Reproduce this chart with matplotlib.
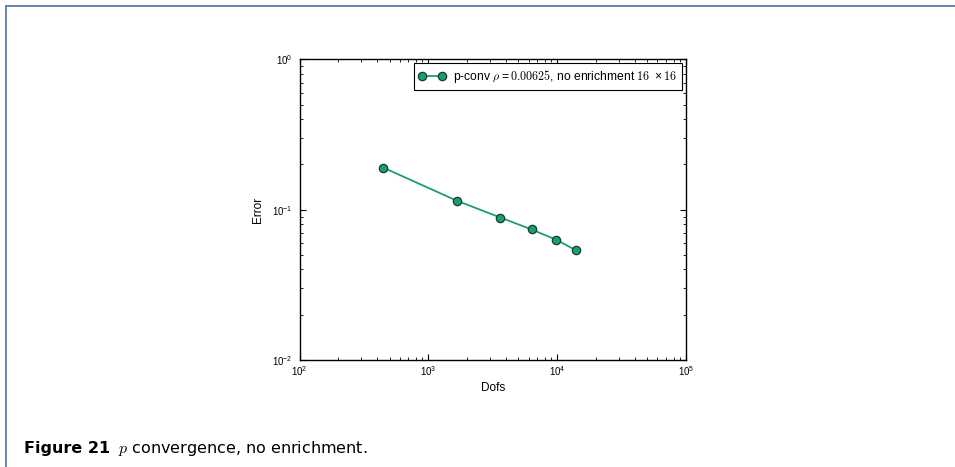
import numpy as np
import matplotlib.pyplot as plt
from matplotlib.lines import Line2D

plt.rcParams['font.family'] = ['Liberation Sans', 'DejaVu Sans']
plt.rcParams['mathtext.fontset'] = 'cm'
plt.rcParams['mathtext.default'] = 'regular'
plt.rcParams['xtick.direction'] = 'in'
plt.rcParams['ytick.direction'] = 'in'
plt.rcParams['xtick.top'] = True
plt.rcParams['ytick.right'] = True

# p-convergence, no enrichment, 16x16 mesh
dofs = [447, 1655, 3628, 6343, 9862, 14090]
error = [0.1904, 0.1149, 0.0886, 0.0738, 0.0630, 0.0535]
label = (r'p-conv $\mathit{\rho}=\mathrm{0.00625}$, no enrichment '
         r'$\mathrm{16}\ \times\mathrm{16}$')

fig = plt.figure(figsize=(9.55, 4.67), dpi=100)
ax = fig.add_axes([299.5 / 955, 1 - 360 / 467, 386.5 / 955, 300.7 / 467])

ax.plot(dofs, error, '-o', color='#1b9e77', lw=1.3, ms=6,
        mfc='#1b9e77', mec='#1a3a30', mew=0.9, label=label)
ax.set_xscale('log')
ax.set_yscale('log')
ax.set_xlim(1e2, 1e5)
ax.set_ylim(1e-2, 1e0)
ax.tick_params(which='major', length=4, width=0.8, labelsize=7)
ax.tick_params(axis='x', which='major', pad=3)
ax.tick_params(axis='y', which='major', pad=5)
ax.tick_params(which='minor', length=2, width=0.6)
for s in ax.spines.values():
    s.set_linewidth(1.0)
ax.set_xlabel('Dofs', fontsize=8.5, labelpad=3)
ax.set_ylabel('Error', fontsize=8.5, labelpad=6)
leg = ax.legend(loc='upper right', fontsize=8.7, numpoints=2, fancybox=False,
                framealpha=1, edgecolor='black', borderpad=0.4,
                handlelength=2.25, handletextpad=0.6, borderaxespad=0.3)
leg.get_frame().set_linewidth(0.8)

# frame around the figure block
fig.add_artist(Line2D([6 / 955, 1.0], [1 - 5.5 / 467, 1 - 5.5 / 467],
                      transform=fig.transFigure, color='#5b7ea7', lw=1.3))
fig.add_artist(Line2D([6 / 955, 6 / 955], [0.0, 1 - 5.5 / 467],
                      transform=fig.transFigure, color='#5b7ea7', lw=1.3))

fig.text(24 / 955, 1 - 448 / 467, 'Figure 21', fontsize=11.5, fontweight='bold',
         family='DejaVu Sans', va='center')
fig.text(118 / 955, 1 - 448 / 467, r'$\mathit{p}$ convergence, no enrichment.',
         fontsize=11.5, family='DejaVu Sans', va='center')

fig.savefig('out.png', dpi=100)
